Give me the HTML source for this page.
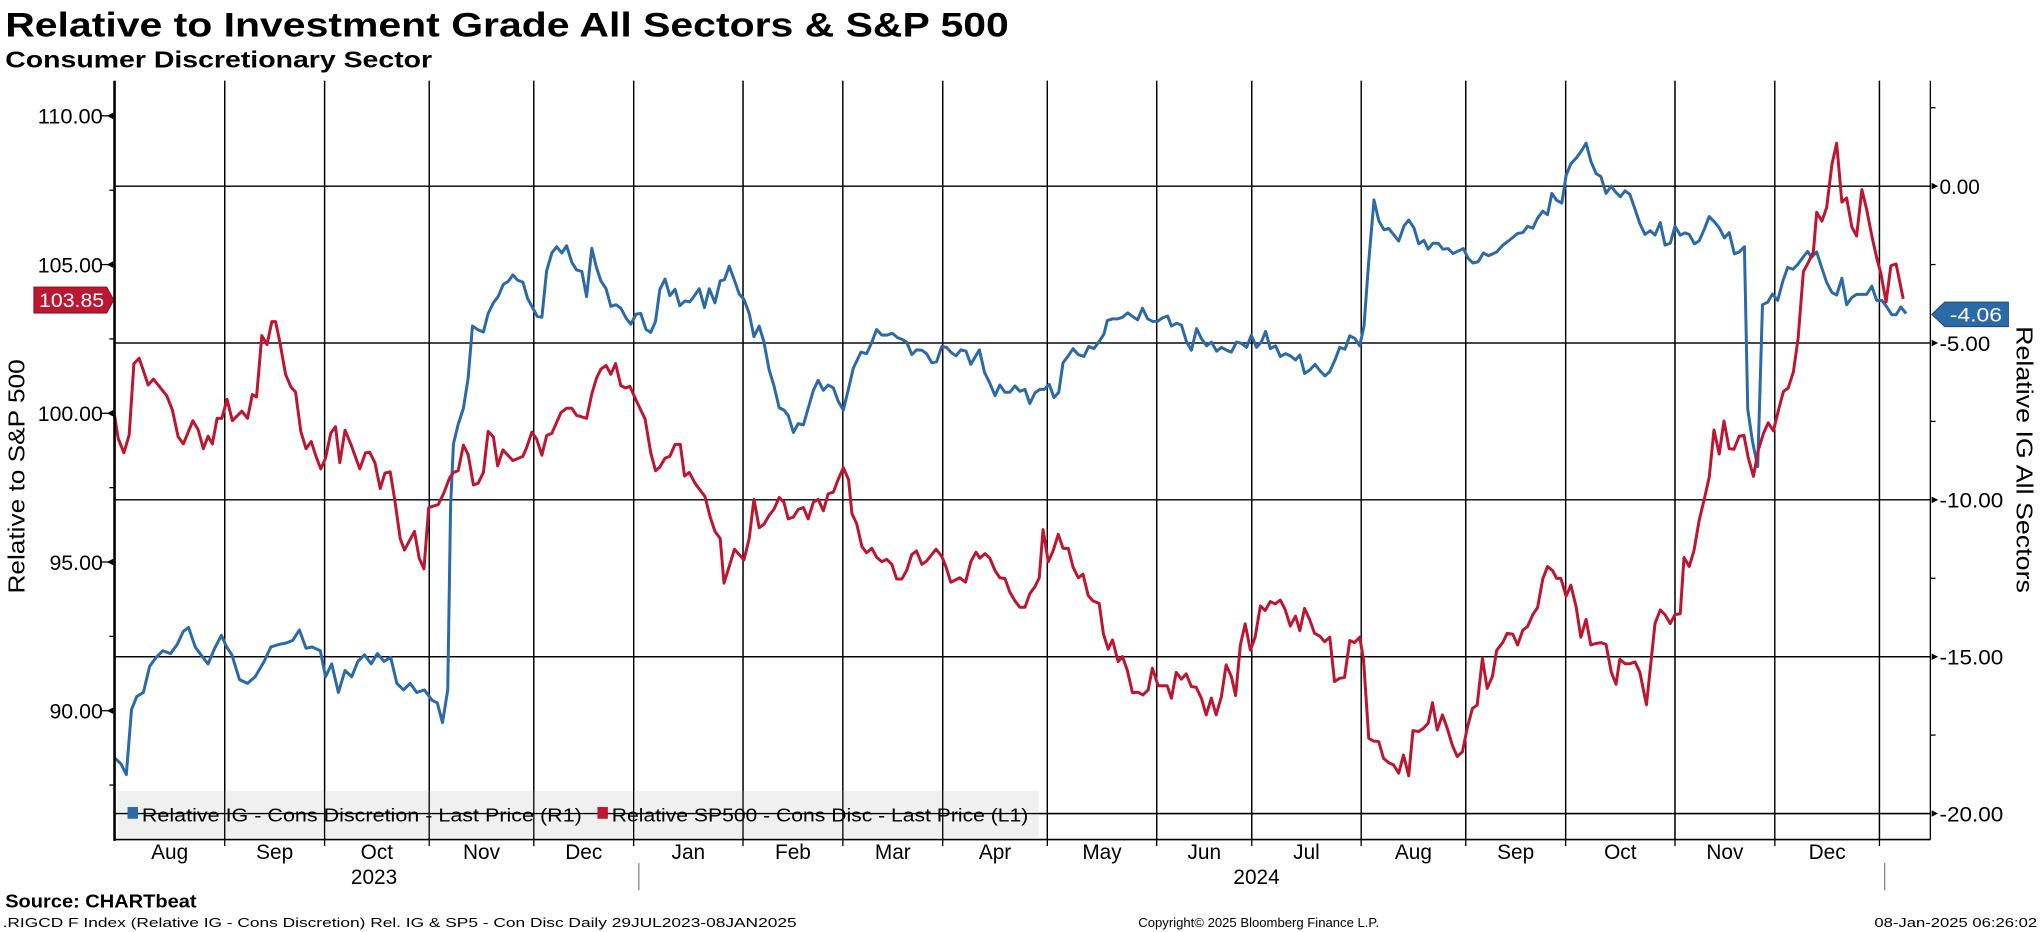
<!DOCTYPE html>
<html><head><meta charset="utf-8"><title>Relative to Investment Grade All Sectors & S&P 500</title>
<style>
html,body{margin:0;padding:0;background:#fff;overflow:hidden}
svg{display:block;font-family:"Liberation Sans",sans-serif}
</style></head>
<body>
<svg id="chart" width="2041" height="932" viewBox="0 0 1568 716" preserveAspectRatio="none" xmlns="http://www.w3.org/2000/svg">
<text x="4" y="28" font-size="26" font-weight="bold" textLength="771" lengthAdjust="spacingAndGlyphs">Relative to Investment Grade All Sectors &amp; S&amp;P 500</text>
<text x="4" y="52" font-size="18" font-weight="bold" textLength="328" lengthAdjust="spacingAndGlyphs">Consumer Discretionary Sector</text>
<g id="grid"></g>
<rect x="90" y="607.5" width="708" height="36" fill="#f0f0f0"/>
<g id="grid2"></g>
<g id="series"></g>
<g id="axes"></g>
<g>
  <rect x="98" y="620" width="8" height="9" fill="#2b6aa6"/>
  <text x="109" y="631" font-size="14" textLength="338" lengthAdjust="spacingAndGlyphs">Relative IG - Cons Discretion - Last Price (R1)</text>
  <rect x="459" y="620" width="8" height="9" fill="#bd1631"/>
  <text x="470" y="631" font-size="14" textLength="320" lengthAdjust="spacingAndGlyphs">Relative SP500 - Cons Disc - Last Price (L1)</text>
</g>
<text transform="translate(19,366) rotate(-90)" text-anchor="middle" font-size="18" textLength="180" lengthAdjust="spacingAndGlyphs">Relative to S&amp;P 500</text>
<text transform="translate(1549,353) rotate(90)" text-anchor="middle" font-size="18" textLength="205" lengthAdjust="spacingAndGlyphs">Relative IG All Sectors</text>
<g>
  <polygon points="26,220.5 82,220.5 87.5,230.5 82,240.5 26,240.5" fill="#bd1631" stroke="#6a0a1a" stroke-width="0.6"/>
  <text x="55" y="236" font-size="15" fill="#fff" text-anchor="middle" textLength="50" lengthAdjust="spacingAndGlyphs">103.85</text>
</g>
<g>
  <polygon points="1484,241.5 1494,232 1543,232 1543,251 1494,251" fill="#2b6aa6" stroke="#123a63" stroke-width="0.6"/>
  <text x="1518" y="247" font-size="15" fill="#fff" text-anchor="middle" textLength="40" lengthAdjust="spacingAndGlyphs">-4.06</text>
</g>
<text x="4" y="697" font-size="14" font-weight="bold" textLength="147" lengthAdjust="spacingAndGlyphs">Source: CHARTbeat</text>
<text x="2" y="712" font-size="10" textLength="610" lengthAdjust="spacingAndGlyphs">.RIGCD F Index (Relative IG - Cons Discretion) Rel. IG &amp; SP5 - Con Disc  Daily 29JUL2023-08JAN2025</text>
<text x="967" y="712" font-size="10" text-anchor="middle" textLength="185" lengthAdjust="spacingAndGlyphs">Copyright© 2025 Bloomberg Finance L.P.</text>
<text x="1565" y="712" font-size="10" text-anchor="end" textLength="125" lengthAdjust="spacingAndGlyphs">08-Jan-2025 06:26:02</text>
</svg>
<script>
// trading-day index (0 = 31 Jul 2023) of each month start
const monthIdx = [1,24,45,67,89,110,133,154,175,197,220,240,263,285,306,329,350,372];
const monthLabels = ["Aug","Sep","Oct","Nov","Dec","Jan","Feb","Mar","Apr","May","Jun","Jul","Aug","Sep","Oct","Nov","Dec"];
const yearLabels = ["2023","2024"];
const leftTicks = [90,95,100,105,110];
const rightTicks = [0,-5,-10,-15,-20];

const redIdx = [0.3,1.1,2.3,3.4,4.4,5.5,6.4,7.4,8.5,11.3,12.5,13.7,14.8,16.8,17.9,19.0,20.0,20.9,21.9,22.9,24.0,25.1,27.1,28.3,29.3,30.2,31.3,32.4,33.4,34.2,35.1,36.3,37.4,38.4,39.5,40.6,41.7,42.7,43.7,44.7,45.8,46.8,47.7,48.8,50.0,51.9,53.1,54.0,55.1,56.2,57.2,58.3,59.3,60.4,61.3,63.4,64.4,65.4,66.4,68.4,69.5,70.8,71.6,72.6,73.7,74.7,75.8,76.8,77.9,78.9,80.0,80.9,82.0,84.1,86.2,87.0,88.1,89.1,90.2,91.2,92.3,94.2,95.4,96.5,97.5,99.6,100.7,101.7,102.6,103.7,104.7,105.7,106.8,107.8,108.7,110.1,111.9,113.1,114.1,115.0,116.1,117.1,118.2,119.3,120.2,121.2,122.4,123.5,124.5,125.6,126.6,127.7,128.5,129.6,130.7,131.7,132.7,133.8,134.8,135.9,136.9,138.0,139.0,140.1,141.1,142.0,143.1,144.1,145.2,146.2,147.3,148.3,149.4,150.4,151.5,152.5,153.6,154.7,155.4,156.4,157.5,158.5,159.6,160.6,161.7,162.7,163.8,164.8,165.9,166.9,168.0,169.0,170.1,171.1,173.1,174.3,175.2,176.2,178.1,179.3,180.4,181.5,182.3,183.4,184.4,185.5,186.5,187.6,188.6,189.7,190.7,191.8,192.8,193.9,194.8,195.6,196.7,197.7,198.8,199.8,200.9,201.9,203.0,204.0,205.1,206.1,207.4,208.3,209.3,210.2,211.4,212.3,213.3,214.4,215.6,216.6,217.7,218.6,219.8,221.7,222.6,223.6,224.7,225.7,226.8,227.8,228.9,229.9,231.0,232.0,233.1,234.1,235.2,236.1,237.1,238.1,239.2,240.2,241.3,242.3,243.4,244.4,245.5,246.5,247.6,248.7,249.6,250.6,251.7,252.7,253.8,254.8,255.9,256.9,258.0,259.0,260.1,261.1,262.2,263.0,264.1,265.1,266.2,267.2,268.3,269.3,270.4,271.4,272.5,273.4,274.6,275.6,276.6,277.5,278.5,279.6,280.6,281.7,282.7,283.8,284.8,285.9,286.9,288.0,289.0,290.1,291.0,292.3,293.2,294.4,295.4,296.5,297.5,298.6,299.6,300.7,301.7,302.8,303.6,304.5,305.6,306.6,307.7,308.7,309.8,310.8,311.9,312.9,314.0,315.1,316.1,316.9,318.0,319.0,320.1,321.1,322.5,324.3,325.4,326.4,327.5,328.5,329.6,330.4,331.5,332.5,333.6,334.6,335.7,336.7,337.8,338.8,339.9,340.9,342.0,343.0,343.9,345.0,346.0,347.1,348.1,349.2,350.2,351.3,352.3,353.4,354.4,355.5,356.5,357.6,358.3,359.4,360.4,361.5,362.5,363.6,364.6,365.7,366.7,367.8,368.8,369.9,370.9,371.8,372.9,373.9,375.0,376.5];
const redVal = [99.95,99.15,98.67,99.27,101.67,101.85,101.43,100.95,101.15,100.59,100.11,99.21,98.97,99.75,99.45,98.81,99.23,98.97,99.83,99.83,100.47,99.75,100.07,99.83,100.63,100.55,102.61,102.31,103.08,103.08,102.39,101.31,100.89,100.71,99.39,98.81,99.05,98.55,98.13,98.49,99.33,99.55,98.34,99.43,98.97,98.13,98.67,98.69,98.33,97.47,97.99,98.03,97.05,95.79,95.40,96.03,95.13,94.77,96.83,96.93,97.29,97.83,98.01,98.07,98.93,98.61,97.59,97.65,98.01,99.39,99.21,98.23,98.77,98.41,98.55,98.85,99.37,99.13,98.59,99.25,99.33,100.02,100.17,100.17,99.93,99.83,100.65,101.19,101.48,101.61,101.31,101.67,100.93,100.85,100.91,100.41,99.81,98.67,98.07,98.19,98.49,98.55,98.95,98.96,97.89,98.01,97.65,97.41,97.20,96.51,96.03,95.79,94.29,94.85,95.43,95.25,95.07,95.79,97.11,96.15,96.27,96.57,96.77,97.17,97.01,96.45,96.51,96.77,96.83,96.45,97.01,97.11,96.72,97.29,97.35,97.77,98.17,97.77,96.63,96.29,95.52,95.31,95.46,95.16,95.01,95.09,94.92,94.43,94.43,94.71,95.25,95.37,94.92,95.03,95.43,95.19,94.83,94.32,94.47,94.32,95.01,95.33,95.13,95.28,95.13,94.71,94.47,94.44,93.99,93.69,93.48,93.48,93.93,94.17,94.47,96.09,95.01,95.37,95.93,95.46,95.46,94.83,94.47,94.59,93.87,93.69,93.61,92.58,92.07,92.38,91.65,91.82,91.37,90.61,90.62,90.53,90.70,91.43,90.84,90.84,90.42,91.29,91.06,91.24,90.81,90.79,90.42,89.86,90.42,89.86,90.47,91.54,91.15,90.51,92.21,92.92,92.04,92.47,93.52,93.37,93.67,93.59,93.72,93.41,92.85,93.18,92.69,93.44,93.05,92.60,92.51,92.32,92.47,90.98,91.09,91.12,92.36,92.29,92.47,91.71,89.07,88.98,88.96,88.40,88.25,88.18,87.90,88.51,87.81,89.33,89.30,89.41,89.58,90.27,89.35,89.86,89.41,88.83,88.46,88.62,89.41,90.08,90.19,91.76,90.75,91.15,92.03,92.30,92.60,92.57,92.21,92.71,92.83,93.23,93.47,94.43,94.85,94.70,94.45,94.45,93.85,94.22,93.50,92.47,93.07,92.21,92.26,92.29,92.23,91.30,90.89,91.73,91.58,91.58,91.64,91.30,90.20,92.93,93.39,93.23,92.93,93.23,93.26,95.15,94.85,95.39,96.41,97.07,97.85,99.44,98.63,99.74,98.81,98.79,99.23,99.26,98.51,97.88,98.75,99.32,99.68,99.41,100.07,100.73,100.85,101.39,102.53,104.76,105.06,105.42,106.76,106.46,106.92,108.36,109.08,107.10,107.24,106.26,105.96,107.52,106.86,105.96,105.24,104.70,103.74,104.96,105.02,103.85];

const blueIdx = [0.3,1.7,2.8,3.9,5.0,6.4,7.7,9.1,10.5,12.1,13.5,14.8,15.9,17.3,18.9,20.0,21.4,22.8,23.9,25.0,26.6,28.3,29.9,31.8,33.2,34.9,36.5,37.8,39.2,40.6,41.9,43.6,44.7,46.0,47.4,48.8,50.2,51.5,52.9,54.3,55.6,57.0,58.4,59.7,61.1,62.5,63.9,65.5,67.1,68.2,69.3,70.4,71.0,71.6,72.6,73.7,74.7,75.6,76.8,77.9,78.9,80.0,81.0,82.1,83.1,84.1,85.1,86.2,87.2,88.2,89.2,90.2,91.2,92.3,93.3,94.4,95.4,96.5,97.5,98.6,99.6,100.7,101.6,102.6,103.7,104.7,105.8,106.8,108.0,108.9,110.0,111.0,112.1,113.1,114.1,115.0,116.1,117.1,118.2,119.2,120.3,121.3,122.3,123.3,124.4,125.4,126.6,127.7,128.6,129.6,130.6,131.7,132.7,133.8,134.8,135.9,136.9,138.0,139.0,140.1,141.1,142.0,143.1,144.1,145.2,146.2,147.3,148.3,149.4,150.4,151.5,152.5,153.6,154.7,155.7,157.3,158.5,159.6,160.6,161.7,162.7,163.9,165.0,166.0,166.9,168.0,169.0,170.1,171.1,172.2,173.2,174.3,175.3,176.4,177.3,178.3,179.4,180.4,182.2,183.3,184.4,185.5,186.5,187.6,188.6,189.7,190.7,191.8,192.8,193.9,194.9,195.8,196.9,197.9,198.9,199.8,200.9,201.9,203.0,204.2,205.2,206.3,207.3,208.4,209.1,210.2,211.3,212.3,213.4,214.4,215.5,216.5,217.6,218.6,219.7,220.7,221.8,222.6,223.7,224.7,225.8,226.8,227.9,228.9,230.0,231.0,232.1,233.1,234.2,235.2,236.3,237.3,238.4,239.4,240.5,241.5,242.4,243.4,244.5,245.5,246.6,247.6,248.7,249.6,250.6,251.7,252.8,253.8,254.9,255.9,257.0,258.0,259.1,260.1,261.2,262.2,263.1,264.0,265.2,266.2,267.3,268.3,269.4,270.4,271.5,272.5,273.6,274.6,275.7,276.6,277.6,278.7,279.7,280.8,281.8,284.0,285.0,286.0,287.1,288.2,289.3,291.0,292.3,293.8,295.4,296.5,297.5,298.6,299.6,300.7,301.7,302.6,303.6,304.7,305.6,306.6,307.8,308.9,309.8,310.8,311.9,312.9,314.0,315.1,315.9,317.0,318.0,319.0,320.1,321.1,322.2,323.3,324.3,325.4,326.4,327.5,328.5,329.6,330.6,331.5,332.6,333.6,334.7,335.7,336.8,337.8,338.9,339.9,341.0,342.0,343.1,343.8,344.8,345.9,346.9,348.0,349.0,350.1,351.2,352.2,353.3,354.3,355.4,356.4,357.2,358.3,359.4,360.4,361.5,362.5,363.6,364.6,365.7,366.7,368.8,369.9,370.9,372.0,373.0,374.1,375.0,376.0,377.1];
const blueVal = [-18.22,-18.42,-18.76,-16.68,-16.27,-16.14,-15.31,-15.02,-14.81,-14.90,-14.61,-14.19,-14.07,-14.69,-15.02,-15.23,-14.73,-14.32,-14.69,-14.94,-15.73,-15.85,-15.64,-15.15,-14.69,-14.61,-14.56,-14.48,-14.15,-14.73,-14.69,-14.81,-15.64,-15.23,-16.14,-15.44,-15.64,-15.15,-14.94,-15.23,-14.90,-15.15,-15.02,-15.85,-16.06,-15.85,-16.14,-16.06,-16.39,-16.47,-17.10,-16.06,-10.21,-8.22,-7.59,-7.08,-6.11,-4.46,-4.58,-4.65,-4.06,-3.72,-3.52,-3.13,-3.04,-2.83,-3.00,-3.06,-3.58,-3.86,-4.15,-4.18,-2.70,-2.13,-1.93,-2.13,-1.90,-2.43,-2.67,-2.72,-3.52,-1.98,-2.55,-3.02,-3.27,-3.83,-3.78,-3.89,-4.23,-4.40,-4.08,-4.06,-4.57,-4.66,-4.31,-3.30,-2.96,-3.49,-3.29,-3.81,-3.66,-3.69,-3.49,-3.27,-3.87,-3.27,-3.72,-3.02,-2.98,-2.55,-2.96,-3.44,-3.61,-4.06,-4.80,-4.46,-4.97,-5.86,-6.36,-7.06,-7.14,-7.31,-7.85,-7.57,-7.61,-7.08,-6.51,-6.19,-6.51,-6.34,-6.43,-6.85,-7.14,-6.45,-5.80,-5.29,-5.34,-4.97,-4.57,-4.75,-4.75,-4.69,-4.83,-4.89,-4.97,-5.37,-5.22,-5.23,-5.34,-5.63,-5.60,-5.11,-5.14,-5.32,-5.41,-5.22,-5.26,-5.68,-5.22,-5.94,-6.28,-6.68,-6.34,-6.57,-6.57,-6.37,-6.54,-6.48,-6.93,-6.59,-6.48,-6.48,-6.32,-6.74,-6.57,-5.63,-5.41,-5.18,-5.37,-5.43,-5.11,-5.18,-4.97,-4.72,-4.29,-4.23,-4.23,-4.18,-4.04,-4.15,-4.26,-3.89,-4.23,-4.31,-4.31,-4.20,-4.14,-4.46,-4.37,-4.43,-4.97,-5.23,-4.54,-4.86,-5.09,-4.97,-5.26,-5.14,-5.23,-5.29,-4.97,-5.01,-5.14,-4.75,-5.14,-4.97,-4.63,-5.18,-5.09,-5.43,-5.34,-5.41,-5.54,-5.38,-5.97,-5.86,-5.68,-5.88,-6.05,-5.91,-5.54,-5.14,-5.20,-4.77,-4.86,-5.09,-4.46,-2.58,-0.44,-1.10,-1.39,-1.35,-1.56,-1.75,-1.27,-1.08,-1.33,-1.84,-1.73,-2.01,-1.82,-1.82,-2.01,-1.99,-2.15,-1.99,-2.30,-2.45,-2.41,-2.13,-2.22,-2.10,-1.88,-1.71,-1.51,-1.48,-1.28,-1.34,-1.02,-0.80,-0.91,-0.23,-0.45,-0.54,0.34,0.71,0.91,1.14,1.37,0.80,0.40,0.31,-0.23,0.00,-0.17,-0.34,-0.15,-0.26,-0.74,-1.19,-1.54,-1.42,-1.56,-1.16,-1.88,-1.82,-1.28,-1.56,-1.49,-1.54,-1.84,-1.74,-1.36,-0.97,-1.14,-1.33,-1.65,-1.48,-2.16,-2.10,-1.93,-7.11,-8.14,-8.94,-3.78,-3.70,-3.44,-3.64,-3.02,-2.59,-2.65,-2.50,-2.27,-2.08,-2.27,-2.10,-2.62,-3.07,-3.39,-3.47,-2.94,-3.78,-3.55,-3.45,-3.45,-3.19,-3.64,-3.64,-3.84,-4.10,-4.10,-3.85,-4.06];

const NS = "http://www.w3.org/2000/svg";
const X0 = 88, X1 = 1483, YT = 62, YB = 645;
function xScale(i){ return 86.8 + i * 3.653; }
function yLeft(v){ return 89 + (110 - v) * 22.85; }
function yRight(v){ return 143 - v * 24.1; }
function mk(tag, attrs, parent){
  const e = document.createElementNS(NS, tag);
  for (const k in attrs) e.setAttribute(k, attrs[k]);
  parent.appendChild(e);
  return e;
}
const grid = document.getElementById("grid");
const grid2 = document.getElementById("grid2");
const axes = document.getElementById("axes");
const series = document.getElementById("series");

// horizontal gridlines (right-axis majors)
rightTicks.forEach(function(t){
  [grid, grid2].forEach(function(g){
    const l = mk("line", {x1:X0, x2:X1, y1:yRight(t), y2:yRight(t), stroke:"#000", "stroke-width":1}, g);
    
    
  });
});
// vertical month gridlines
monthIdx.slice(1).forEach(function(m){
  const x = xScale(m - 0.5);
  [grid, grid2].forEach(function(g){
    const l = mk("line", {x1:x, x2:x, y1:YT, y2:YB, stroke:"#000", "stroke-width":1}, g);
    
    
  });
  const tk = mk("line", {x1:x, x2:x, y1:YB, y2:YB+5, stroke:"#000", "stroke-width":1}, axes);
  
  
});
// month labels
monthLabels.forEach(function(lbl, i){
  const a = i === 0 ? (X0 - 86.8) / 3.653 : monthIdx[i] - 0.5;
  const b = monthIdx[i+1] - 0.5;
  const t = mk("text", {x:(xScale(a)+xScale(b))/2, y:660, "font-size":16, "text-anchor":"middle"}, axes);
  
  
  t.textContent = lbl;
});
// year labels and separators
const yearCenters = [[0,5],[5,17]];
yearLabels.forEach(function(lbl, i){
  const a = i === 0 ? 0.3 : monthIdx[5] - 0.5;
  const b = i === 0 ? monthIdx[5] - 0.5 : monthIdx[17] - 0.5;
  const t = mk("text", {x:(xScale(a)+xScale(b))/2, y:679, "font-size":16, "text-anchor":"middle"}, axes);
  
  
  t.textContent = lbl;
});
[monthIdx[5], monthIdx[17]].forEach(function(m){
  const x = xScale(m - 0.5) + 4;
  const l = mk("line", {x1:x, x2:x, y1:663, y2:684, stroke:"#888", "stroke-width":1}, axes);
  
  
});

// series
function drawLine(idx, vals, yf, color, name){
  let d = "";
  for (let i = 0; i < idx.length; i++){
    d += (i ? "L" : "M") + xScale(idx[i]).toFixed(2) + "," + yf(vals[i]).toFixed(2);
  }
  const p = mk("path", {d:d, fill:"none", stroke:color, "stroke-width":2.3, "stroke-linejoin":"round"}, series);
  
  
}
drawLine(blueIdx, blueVal, yRight, "#2b6aa6", "line-relative-ig");
drawLine(redIdx, redVal, yLeft, "#bd1631", "line-relative-sp500");

// axes lines
let a1 = mk("line", {x1:X0, x2:X0, y1:YT, y2:YB+1, stroke:"#000", "stroke-width":2}, axes);


let a2 = mk("line", {x1:X1, x2:X1, y1:YT, y2:YB, stroke:"#000", "stroke-width":1}, axes);


let a3 = mk("line", {x1:X0, x2:X1, y1:YB, y2:YB, stroke:"#000", "stroke-width":1.2}, axes);



// left ticks
leftTicks.forEach(function(t){
  const y = yLeft(t);
  const tk = mk("polygon", {points:(X0-1)+","+(y-2.5)+" "+(X0-1)+","+(y+2.5)+" "+(X0-6)+","+y}, axes);
  
  
  const ln = mk("line", {x1:X0-10, x2:X0, y1:y, y2:y, stroke:"#000", "stroke-width":1}, axes);
  
  
  const tx = mk("text", {x:79, y:y+6, "font-size":16, "text-anchor":"end", textLength:(t>=100?50:41), lengthAdjust:"spacingAndGlyphs"}, axes);
  
  
  tx.textContent = t.toFixed(2);
  const mn = mk("line", {x1:X0-4, x2:X0, y1:yLeft(t-2.5), y2:yLeft(t-2.5), stroke:"#000", "stroke-width":1}, axes);
  
  
});
// right ticks
rightTicks.forEach(function(t){
  const y = yRight(t);
  const tk = mk("polygon", {points:(X1+1)+","+(y-2.5)+" "+(X1+1)+","+(y+2.5)+" "+(X1+6)+","+y}, axes);
  
  
  const tx = mk("text", {x:1490, y:y+6, "font-size":16, textLength:(t<=-10?49:(t<0?39:31)), lengthAdjust:"spacingAndGlyphs"}, axes);
  
  
  tx.textContent = t.toFixed(2);
  const mn = mk("line", {x1:X1, x2:X1+4, y1:yRight(t+2.5), y2:yRight(t+2.5), stroke:"#000", "stroke-width":1}, axes);
  
  
});
</script>
</body></html>
